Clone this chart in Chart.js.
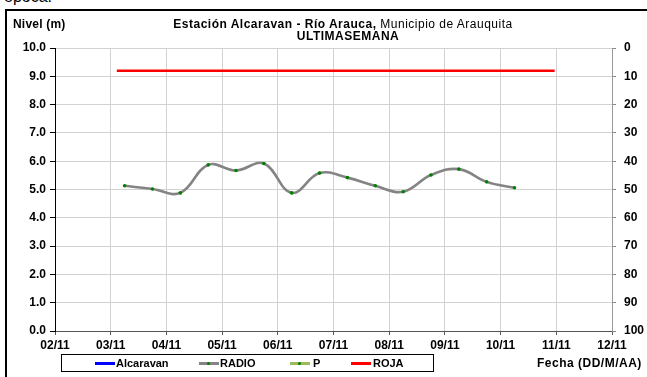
<!DOCTYPE html>
<html><head><meta charset="utf-8">
<script src="https://cdn.jsdelivr.net/npm/chart.js@4/dist/chart.umd.min.js"></script>
<style>
html,body{margin:0;padding:0;background:#fff;}
#wrap{position:relative;width:647px;height:377px;overflow:hidden;font-family:"Liberation Sans",Arial,sans-serif;background:#fff;}
#c{position:absolute;left:0;top:0;}
.t{position:absolute;white-space:nowrap;font-size:12px;line-height:13px;color:#000;letter-spacing:0.5px;}
.b{font-weight:bold;}
#frame{position:absolute;left:5px;top:9px;width:700px;height:400px;border-left:2px solid #000;border-top:2px solid #000;}
#legend{position:absolute;left:61px;top:354px;width:371px;height:16px;border:1px solid #000;background:#fff;}
.ln{position:absolute;top:7px;width:20px;height:3px;}
.dot{position:absolute;top:7px;left:8px;width:3px;height:3px;background:#008000;border-radius:50%;}
.lt{position:absolute;top:1px;font-size:11px;font-weight:bold;line-height:14px;white-space:nowrap;}
</style>
</head><body>
<div id="wrap">
  <div class="t" style="left:4px;top:-12px;font-size:16px;line-height:18px;letter-spacing:0;">época.</div>
  <div id="frame"></div>
  <canvas id="c" width="647" height="377"></canvas>
  <div class="t b" style="left:13px;top:18px;letter-spacing:0.2px;">Nivel (m)</div>
  <div class="t" style="left:0;top:18px;width:686px;text-align:center;"><span class="b">Estación Alcaravan - Río Arauca,</span> Municipio de Arauquita</div>
  <div class="t b" style="left:0;top:30px;width:696px;text-align:center;">ULTIMASEMANA</div>
  <div class="t b" style="left:537px;top:357px;">Fecha (DD/M/AA)</div>
  <div id="legend"></div>
</div>
<script>
// ---- data ----
const xTickLabels = ['02/11','03/11','04/11','05/11','06/11','07/11','08/11','09/11','10/11','11/11','12/11'];
const radioDays   = [3.25,3.75,4.25,4.75,5.25,5.75,6.25,6.75,7.25,7.75,8.25,8.75,9.25,9.75,10.25];
const radioLevels = [5.13,5.02,4.88,5.87,5.67,5.92,4.88,5.58,5.42,5.13,4.92,5.51,5.72,5.27,5.06];
const rojaDays    = [3.11,10.97];
const rojaLevels  = [9.2,9.2];
const alcaravanLevels = [];
const pLevels = [];
const leftTicks  = [0,1,2,3,4,5,6,7,8,9,10];
const rightTicks = [0,10,20,30,40,50,60,70,80,90,100];
const seriesNames = ['Alcaravan','RADIO','P','ROJA'];

const toPts = (xs, ys) => xs.map((x,i)=>({x:x,y:ys[i]}));
const FONT = {family:'"Liberation Sans", Arial, sans-serif', size:12, weight:'bold'};

const chart = new Chart(document.getElementById('c'), {
  type:'line',
  data:{datasets:[
    {label:seriesNames[0], data:alcaravanLevels, borderColor:'#0000ff', backgroundColor:'#0000ff', borderWidth:3, pointRadius:0},
    {label:seriesNames[1], data:toPts(radioDays,radioLevels), borderColor:'#848484', backgroundColor:'#008000',
      borderWidth:2.6, pointRadius:1.8, pointBorderWidth:0, pointBackgroundColor:'#008000', tension:0.4},
    {label:seriesNames[2], data:pLevels, borderColor:'#9bbb59', backgroundColor:'#008000', borderWidth:3, pointRadius:0},
    {label:seriesNames[3], data:toPts(rojaDays,rojaLevels), borderColor:'#ff0000', backgroundColor:'#ff0000', borderWidth:2.5, pointRadius:0}
  ]},
  options:{
    responsive:false, animation:false, devicePixelRatio:1,
    layout:{padding:{top:48,left:0,right:0,bottom:0}},
    plugins:{legend:{display:false}, tooltip:{enabled:false}},
    scales:{
      x:{type:'linear', min:2, max:12,
        afterBuildTicks:s=>{s.ticks = xTickLabels.map((l,i)=>({value:2+i}));},
        ticks:{callback:(v)=>xTickLabels[Math.round(v-2)], font:FONT, color:'#000', padding:3, maxRotation:0, autoSkip:false},
        grid:{color:'#d2d2d2', lineWidth:1, tickLength:4, tickColor:'#555'},
        border:{color:'#555', width:1},
        afterFit:s=>{s.height=46;}
      },
      y:{position:'left', min:0, max:10,
        afterBuildTicks:s=>{s.ticks = leftTicks.map(v=>({value:v}));},
        ticks:{callback:(v)=>v.toFixed(1), font:FONT, color:'#000', padding:4},
        grid:{color:'#d2d2d2', lineWidth:1, tickLength:5, tickColor:'#000'},
        border:{color:'#000', width:1},
        afterFit:s=>{s.width=55;}
      },
      y2:{position:'right', min:0, max:100, reverse:true,
        afterBuildTicks:s=>{s.ticks = rightTicks.map(v=>({value:v}));},
        ticks:{font:FONT, color:'#000', padding:8},
        grid:{drawOnChartArea:false, tickLength:4, tickColor:'#888'},
        border:{color:'#999', width:1},
        afterFit:s=>{s.width=35;}
      }
    }
  }
});

// ---- legend built from the chart datasets ----
const legendX = [[33,54],[137,158],[228,251],[289,311]];
const lg = document.getElementById('legend');
chart.data.datasets.forEach((ds,i)=>{
  const ln = document.createElement('div'); ln.className='ln';
  ln.style.left = legendX[i][0]+'px'; ln.style.background = ds.borderColor;
  lg.appendChild(ln);
  if (i===1 || i===2){ const d=document.createElement('div'); d.className='dot'; d.style.left=(legendX[i][0]+8)+'px'; lg.appendChild(d);} 
  const t = document.createElement('div'); t.className='lt'; t.textContent = ds.label;
  t.style.left = legendX[i][1]+'px'; lg.appendChild(t);
});
</script>
</body></html>
